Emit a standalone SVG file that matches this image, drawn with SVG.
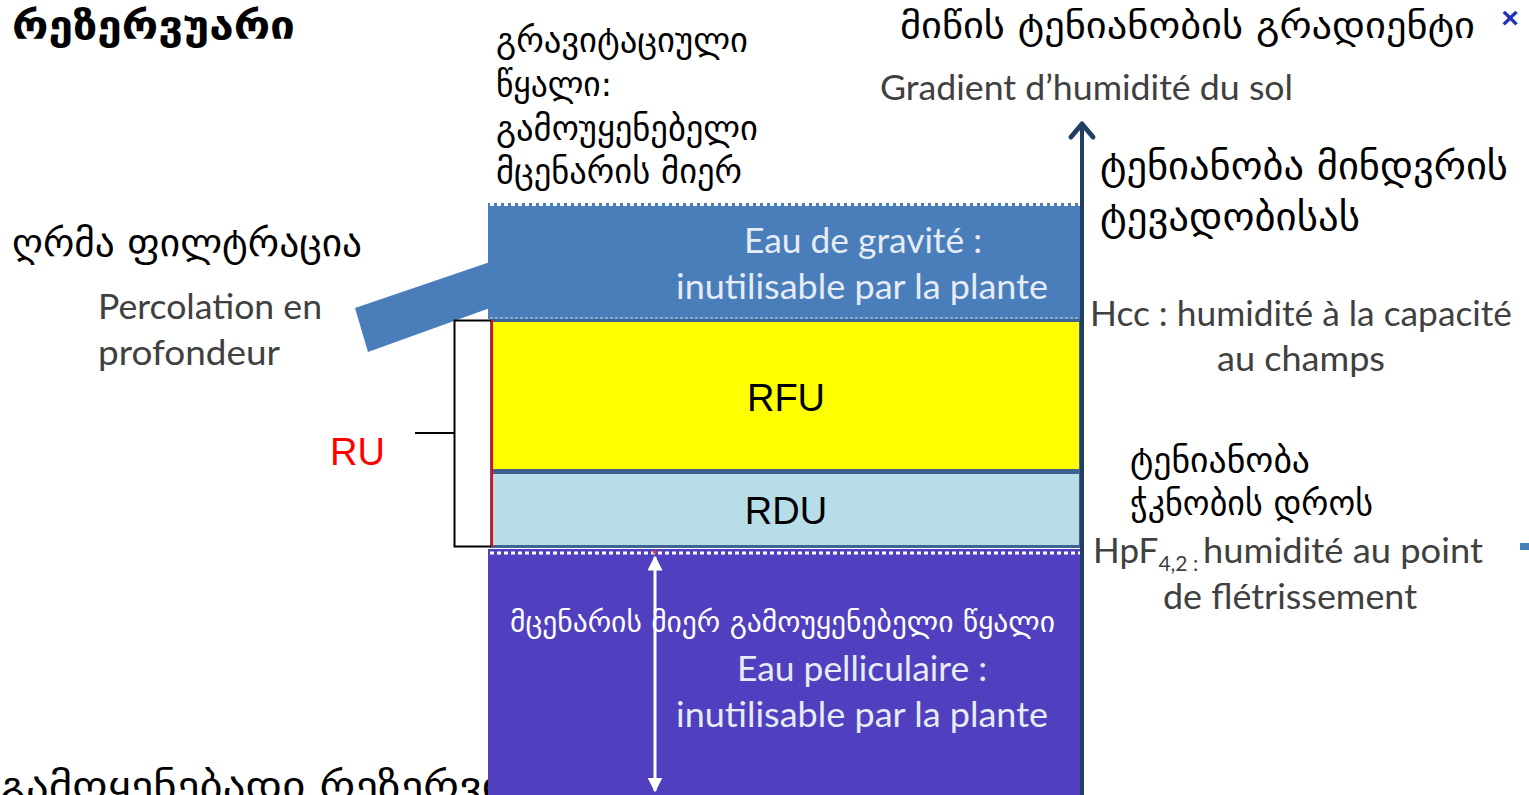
<svg xmlns="http://www.w3.org/2000/svg" width="1529" height="795" viewBox="0 0 1529 795">
<style>
.ka{font-family:"DejaVu Sans","Noto Sans",sans-serif;fill:#000}
.fr{font-family:Lato,"Open Sans",sans-serif;fill:#404040}
.lt{font-family:Lato,"Open Sans",sans-serif;fill:#E6ECF4}
.lbl{font-family:"Liberation Sans",Arial,sans-serif;fill:#000;font-size:38px;text-anchor:middle}
.dots{stroke:#FFFFFF;stroke-width:3;stroke-dasharray:4 3}
</style>
<defs>
<marker id="ah" viewBox="0 0 10 10" refX="9" refY="5" markerWidth="5" markerHeight="5" orient="auto-start-reverse"><path d="M0,0 L10,5 L0,10 z" fill="#FFFFFF"/></marker>
</defs>
<rect width="1529" height="795" fill="#FFFFFF"/>

<g id="title"><text class="ka" x="12" y="39" font-size="40" font-weight="bold" textLength="283" lengthAdjust="spacingAndGlyphs">რეზერვუარი</text></g>
<g id="bottom-label"><text class="ka" x="0" y="800" font-size="40" textLength="505" lengthAdjust="spacingAndGlyphs">გამოყენებადი რეზერვი</text></g>

<g id="gravity">
<rect x="488" y="203" width="594" height="116" fill="#4A7EBB"/>
<line class="dots" x1="490" y1="204.5" x2="1080" y2="204.5"/>
<line x1="490" y1="318" x2="1080" y2="318" stroke="#C8D6EA" stroke-width="1" stroke-dasharray="3 2"/>
<text class="lt" x="744" y="253" font-size="35" textLength="238" lengthAdjust="spacingAndGlyphs">Eau de gravité :</text>
<text class="lt" x="676" y="299" font-size="35" textLength="372" lengthAdjust="spacingAndGlyphs">inutilisable par la plante</text>
</g>

<g id="percolation">
<polygon points="355,308 490,262 490,308 368,352" fill="#4A7EBB"/>
</g>

<g id="rfu">
<rect x="491.5" y="320.5" width="589" height="150" fill="#FFFF00" stroke="#3F6390" stroke-width="3"/>
<text class="lbl" x="786" y="411">RFU</text>
</g>
<g id="rdu">
<rect x="491.5" y="472.5" width="589" height="74" fill="#B6DDE8" stroke="#3F6390" stroke-width="3"/>
<text class="lbl" x="786" y="524">RDU</text>
</g>

<g id="pelliculaire">
<rect x="488" y="549" width="594" height="250" fill="#5040BF"/>
<line class="dots" x1="490" y1="553" x2="1080" y2="553"/>
<text class="ka" x="510" y="632" font-size="29" style="fill:#FFFFFF" textLength="545" lengthAdjust="spacingAndGlyphs">მცენარის მიერ გამოუყენებელი წყალი</text>
<text class="lt" x="737" y="681" font-size="35" textLength="250" lengthAdjust="spacingAndGlyphs">Eau pelliculaire :</text>
<text class="lt" x="676" y="727" font-size="35" textLength="372" lengthAdjust="spacingAndGlyphs">inutilisable par la plante</text>
</g>

<g id="connectors">
<line x1="1082" y1="795" x2="1082" y2="126" stroke="#213F63" stroke-width="4"/>
<path d="M1071,137 L1082,124 L1093,137" fill="none" stroke="#213F63" stroke-width="5" stroke-linecap="round" stroke-linejoin="round"/>
<line x1="655" y1="557" x2="655" y2="791" stroke="#FFFFFF" stroke-width="3" marker-start="url(#ah)" marker-end="url(#ah)"/>
<circle cx="655" cy="552" r="2" fill="#D04040"/>
<path d="M491,320.5 H454.5 V546.5 H491" fill="none" stroke="#000" stroke-width="2"/>
<line x1="415" y1="433" x2="454" y2="433" stroke="#000" stroke-width="2"/>
<line x1="492" y1="320" x2="492" y2="547" stroke="#FF0000" stroke-width="2"/>
</g>

<g id="ru"><text x="330" y="465" font-family="Liberation Sans,Arial,sans-serif" font-size="38" fill="#FF0000">RU</text></g>

<g id="gravity-label">
<text class="ka" x="496" y="52" font-size="34" textLength="252" lengthAdjust="spacingAndGlyphs">გრავიტაციული</text>
<text class="ka" x="496" y="96" font-size="34" textLength="116" lengthAdjust="spacingAndGlyphs">წყალი:</text>
<text class="ka" x="496" y="140" font-size="34" textLength="262" lengthAdjust="spacingAndGlyphs">გამოუყენებელი</text>
<text class="ka" x="496" y="183" font-size="34" textLength="246" lengthAdjust="spacingAndGlyphs">მცენარის მიერ</text>
</g>

<g id="gradient-label">
<text class="ka" x="900" y="38" font-size="36" textLength="575" lengthAdjust="spacingAndGlyphs">მიწის ტენიანობის გრადიენტი</text>
<text class="fr" x="880" y="100" font-size="35" textLength="413" lengthAdjust="spacingAndGlyphs">Gradient d’humidité du sol</text>
<text x="1510" y="28" font-family="Liberation Sans,Arial,sans-serif" font-size="30" font-weight="bold" fill="#2030C0" text-anchor="middle">×</text>
</g>

<g id="hcc-label">
<text class="ka" x="1100" y="179" font-size="39" textLength="408" lengthAdjust="spacingAndGlyphs">ტენიანობა მინდვრის</text>
<text class="ka" x="1100" y="230" font-size="39" textLength="260" lengthAdjust="spacingAndGlyphs">ტევადობისას</text>
<text class="fr" x="1090" y="326" font-size="35" textLength="422" lengthAdjust="spacingAndGlyphs">Hcc : humidité à la capacité</text>
<text class="fr" x="1217" y="371" font-size="35" textLength="168" lengthAdjust="spacingAndGlyphs">au champs</text>
</g>

<g id="hpf-label">
<text class="ka" x="1130" y="472" font-size="34" textLength="180" lengthAdjust="spacingAndGlyphs">ტენიანობა</text>
<text class="ka" x="1130" y="515" font-size="34" textLength="243" lengthAdjust="spacingAndGlyphs">ჭკნობის დროს</text>
<text class="fr" x="1093" y="563" font-size="35">HpF<tspan font-size="21" dy="8">4,2 :</tspan></text>
<text class="fr" x="1203" y="563" font-size="35" textLength="280" lengthAdjust="spacingAndGlyphs">humidité au point</text>
<text class="fr" x="1163" y="609" font-size="35" textLength="254" lengthAdjust="spacingAndGlyphs">de flétrissement</text>
</g>

<g id="percolation-label">
<text class="ka" x="12" y="256" font-size="38" textLength="350" lengthAdjust="spacingAndGlyphs">ღრმა ფილტრაცია</text>
<text class="fr" x="98" y="319" font-size="35" textLength="224" lengthAdjust="spacingAndGlyphs">Percolation en</text>
<text class="fr" x="98" y="365" font-size="35" textLength="182" lengthAdjust="spacingAndGlyphs">profondeur</text>
</g>

<rect x="1520" y="543" width="9" height="7" fill="#4A7EBB"/>
</svg>
